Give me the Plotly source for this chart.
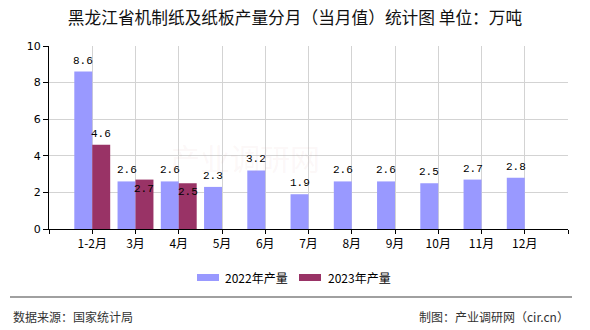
import plotly.graph_objects as go

# Monthly output of machine-made paper and paperboard, Heilongjiang (10k tonnes)
months = ["1-2月", "3月", "4月", "5月", "6月", "7月", "8月", "9月", "10月", "11月", "12月"]
output_2022 = [8.6, 2.6, 2.6, 2.3, 3.2, 1.9, 2.6, 2.6, 2.5, 2.7, 2.8]
output_2023 = [4.6, 2.7, 2.5]
series_names = ["2022年产量", "2023年产量"]
series_colors = ["#9999FF", "#993366"]
y_ticks = [0, 2, 4, 6, 8, 10]

W, H = 590, 330
L, R, T, B = 49, 22, 46, 101
PW, PH = W - L - R, H - T - B

bargap = 0.17
bw = (1 - bargap) / 2  # width of one bar in category units

x_pos = list(range(len(months)))

fig = go.Figure()
fig.add_trace(go.Bar(x=x_pos, y=output_2022, name=series_names[0],
                     marker=dict(color=series_colors[0], line=dict(width=0)),
                     offset=-bw, width=bw, showlegend=False))
fig.add_trace(go.Bar(x=x_pos[:len(output_2023)], y=output_2023, name=series_names[1],
                     marker=dict(color=series_colors[1], line=dict(width=0)),
                     offset=0, width=bw, showlegend=False))

label_font = dict(family="Liberation Mono, DejaVu Sans Mono, monospace", size=11, color="#000")
annotations = []
for i, v in enumerate(output_2022):
    annotations.append(dict(x=i - bw / 2, y=v, xref="x", yref="y", text=f"{v:.1f}",
                            showarrow=False, yanchor="bottom", yshift=3, font=label_font))
for i, v in enumerate(output_2023):
    if i == 0:
        annotations.append(dict(x=i + bw / 2, y=v, xref="x", yref="y", text=f"{v:.1f}",
                                showarrow=False, yanchor="bottom", yshift=3, font=label_font))
    else:
        # labels that would collide with the neighbouring 2022 label sit inside the bar top
        annotations.append(dict(x=i + bw / 2, y=v, xref="x", yref="y", text=f"{v:.1f}",
                                showarrow=False, yanchor="middle", yshift=-9, font=label_font))


def px(x):
    return (x - L) / PW


def py(y):
    return (H - B - y) / PH


# custom legend
leg_font = dict(family="Noto Sans CJK SC, sans-serif", size=12, color="#000")
shapes = []
legend_items = [(197, 219, 223), (299, 321, 326)]
for (x0, x1, tx), name, col in zip(legend_items, series_names, series_colors):
    shapes.append(dict(type="rect", xref="paper", yref="paper",
                       x0=px(x0), x1=px(x1), y0=py(281), y1=py(274),
                       fillcolor=col, line=dict(width=0)))
    annotations.append(dict(x=px(tx), y=py(277), xref="paper", yref="paper", text=name,
                            showarrow=False, xanchor="left", yanchor="middle", font=leg_font))

# footer separator and texts
shapes.append(dict(type="line", xref="paper", yref="paper", x0=px(10), x1=px(572),
                   y0=py(297), y1=py(297), line=dict(color="#808080", width=1.5)))
foot_font = dict(family="Noto Sans CJK SC, sans-serif", size=12, color="#333")
annotations.append(dict(x=px(11), y=py(316), xref="paper", yref="paper", text="数据来源：国家统计局",
                        showarrow=False, xanchor="left", yanchor="middle", font=foot_font))
annotations.append(dict(x=px(571), y=py(316), xref="paper", yref="paper", text="制图：产业调研网（cir.cn）",
                        showarrow=False, xanchor="right", yanchor="middle", font=foot_font))

# faint watermark
annotations.append(dict(x=px(245), y=py(157), xref="paper", yref="paper", text="产业调研网",
                        showarrow=False, xanchor="center", yanchor="middle",
                        font=dict(family="Noto Sans CJK SC, sans-serif", size=30,
                                  color="rgba(210,150,150,0.08)")))

fig.update_layout(
    width=W, height=H,
    margin=dict(l=L, r=R, t=T, b=B),
    paper_bgcolor="white", plot_bgcolor="white",
    barmode="overlay",
    title=dict(text="黑龙江省机制纸及纸板产量分月（当月值）统计图 单位：万吨",
               x=0.5, xanchor="center", y=1 - 18 / H, yanchor="middle",
               font=dict(family="Noto Sans CJK SC, sans-serif", size=16.7, color="#111")),
    annotations=annotations,
    shapes=shapes,
)

fig.update_xaxes(range=[-1, len(months)], tickmode="array",
                 tickvals=list(range(-1, len(months) + 1)),
                 ticktext=[""] + months + [""],
                 showgrid=True, gridcolor="#d3d3d3", gridwidth=1,
                 showline=True, linecolor="#000", linewidth=1,
                 ticks="outside", ticklen=4, tickcolor="#000",
                 tickfont=dict(family="Noto Sans CJK SC, sans-serif", size=12, color="#000"),
                 zeroline=False, fixedrange=True)
fig.update_yaxes(range=[0, 10], tickvals=y_ticks,
                 showgrid=True, gridcolor="#d3d3d3", gridwidth=1,
                 showline=True, linecolor="#000", linewidth=1,
                 ticks="outside", ticklen=5, tickcolor="#000",
                 tickfont=dict(family="DejaVu Sans, sans-serif", size=11, color="#000"),
                 zeroline=False, fixedrange=True)

fig.write_html("out.html")
